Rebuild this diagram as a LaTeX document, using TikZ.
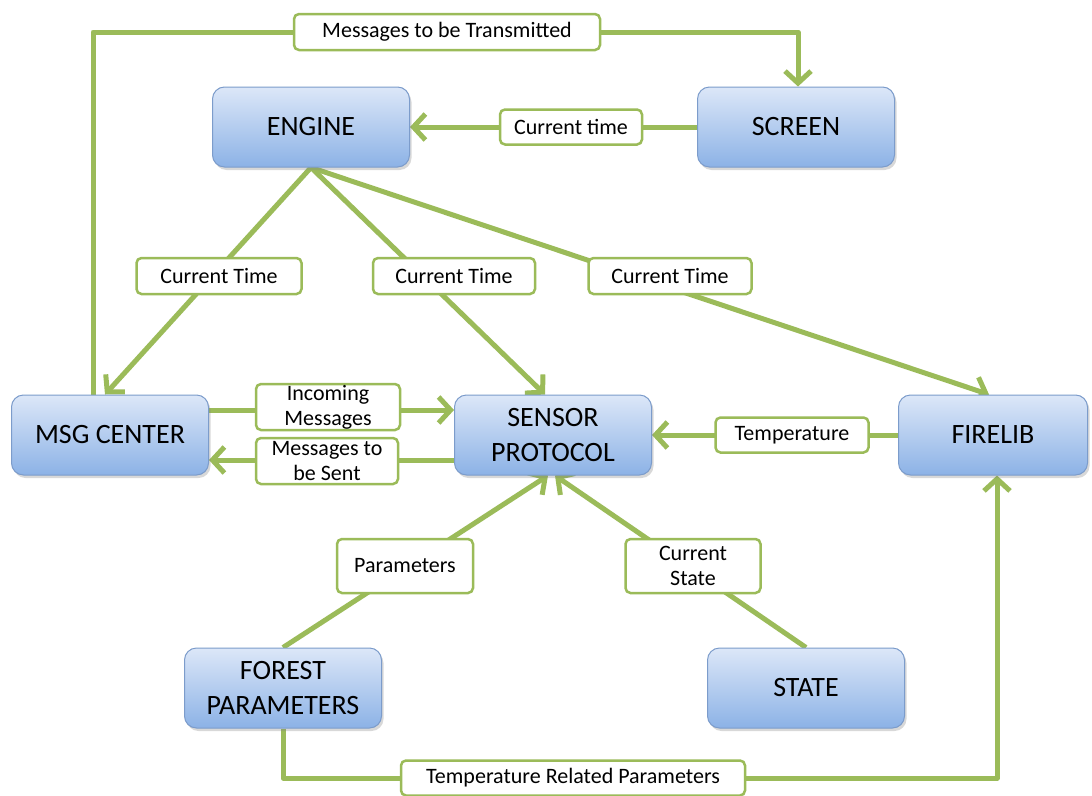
\documentclass[tikz,border=0pt]{standalone}
\usepackage{fontspec}
\setmainfont{Carlito}
\usetikzlibrary{arrows.meta,backgrounds,shadows}
\definecolor{lg}{HTML}{9BBB59}
\definecolor{bt}{HTML}{DCE7F8}
\definecolor{bb}{HTML}{8CB2E6}
\definecolor{bd}{HTML}{7C9CCB}
\begin{document}
\begin{tikzpicture}[x=1pt,y=-1pt,
 box/.style={draw=bd, line width=1pt, rounded corners=12pt, top color=bt, bottom color=bb, minimum width=197pt, minimum height=80pt, align=center, inner sep=0pt, font=\fontsize{28}{35}\selectfont, drop shadow={shadow xshift=2pt, shadow yshift=-3pt, opacity=0.3}},
 lab/.style={draw=lg, line width=2.5pt, fill=white, rounded corners=5pt, align=center, inner sep=0pt, font=\fontsize{22}{25}\selectfont},
 conn/.style={draw=lg, line width=5pt, line join=round},
 arr/.style={conn, -{Straight Barb[length=12pt,width=26pt]}}]
\useasboundingbox (0,0) rectangle (1092,795);
\node[box] (engine) at (311,127) {ENGINE};
\node[box] (screen) at (796,127) {SCREEN};
\node[box] (msg) at (110,435) {MSG CENTER};
\node[box] (sensor) at (553,435) {SENSOR\\PROTOCOL};
\node[box, minimum width=189pt] (firelib) at (993,435) {FIRELIB};
\node[box] (forest) at (283,688) {FOREST\\PARAMETERS};
\node[box] (state) at (806,688) {STATE};

\node[lab, minimum width=306pt, minimum height=36pt] (lmt) at (447,32) {Messages to be Transmitted};
\node[lab, minimum width=142pt, minimum height=35pt] (lct) at (571,127) {Current time};
\node[lab, minimum width=165pt, minimum height=36pt] (lc1) at (219,276) {Current Time};
\node[lab, minimum width=162pt, minimum height=36pt] (lc2) at (454,276) {Current Time};
\node[lab, minimum width=163pt, minimum height=36pt] (lc3) at (670,276) {Current Time};
\node[lab, minimum width=144pt, minimum height=46pt] (lin) at (328,407) {Incoming\\Messages};
\node[lab, minimum width=142pt, minimum height=46pt] (lsent) at (327,461) {Messages to\\be Sent};
\node[lab, minimum width=153pt, minimum height=35pt] (ltemp) at (792,435) {Temperature};
\node[lab, minimum width=136pt, minimum height=54pt] (lpar) at (405,566) {Parameters};
\node[lab, minimum width=135pt, minimum height=54pt] (lcs) at (693,566) {Current\\State};
\node[lab, minimum width=344pt, minimum height=35pt] (ltrp) at (573,778) {Temperature Related Parameters};

\coordinate (mup) at ([xshift=-17pt]msg.north);
\coordinate (scr) at ([xshift=2pt]screen.north);
\coordinate (fb) at ([xshift=4pt]firelib.south);
\begin{pgfonlayer}{background}
\fill[white] (0,0) rectangle (1092,795);
\draw[arr] (mup) |- (scr |- lmt) -- (scr);
\draw[arr] (screen.west) -- (engine.east);
\draw[arr] (engine.south) -- ([xshift=-5pt]msg.north);
\draw[arr] (engine.south) -- ([xshift=-8pt]sensor.north);
\draw[arr] (engine.south) -- ([xshift=-4pt]firelib.north);
\draw[arr] ([yshift=25pt]msg.east) -- ([yshift=25pt]sensor.west);
\draw[arr] ([yshift=-25pt]sensor.west) -- ([yshift=-25pt]msg.east);
\draw[arr] (firelib.west) -- (sensor.east);
\draw[arr] (forest.north) -- ([xshift=-5pt]sensor.south);
\draw[arr] (state.north) -- ([xshift=2pt]sensor.south);
\draw[arr] (forest.south) |- (fb |- ltrp) -- (fb);
\end{pgfonlayer}
\end{tikzpicture}
\end{document}
